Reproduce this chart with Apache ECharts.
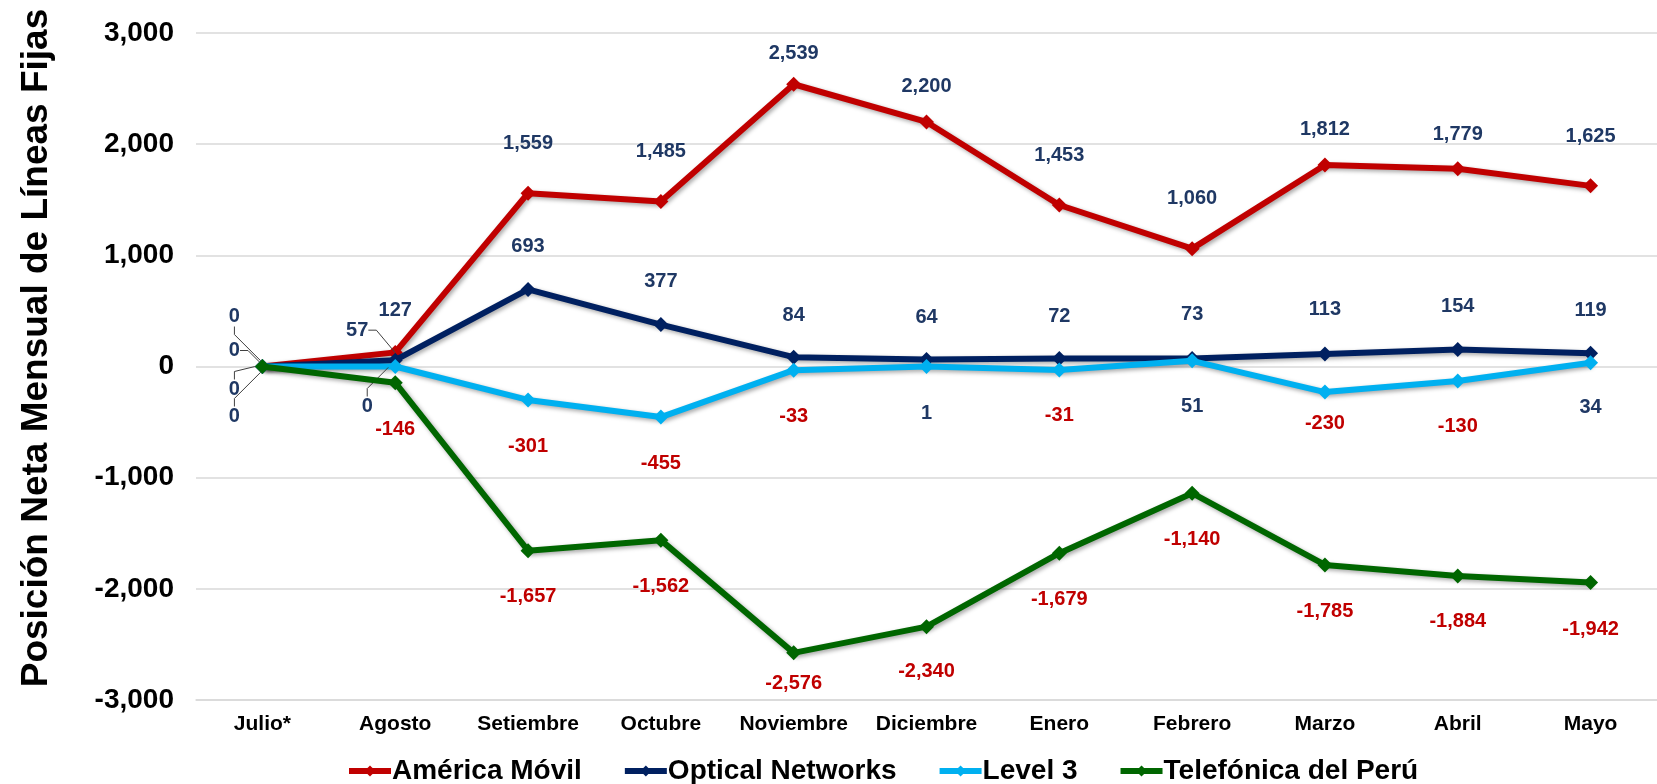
<!DOCTYPE html>
<html>
<head>
<meta charset="utf-8">
<script src="https://cdn.jsdelivr.net/npm/echarts@6/dist/echarts.min.js"></script>
<style>
html,body{margin:0;padding:0;background:#fff;}
#chart{width:1657px;height:784px;}
</style>
</head>
<body>
<div id="chart"></div>
<script>
// ---- data ----
const categories = ['Julio*','Agosto','Setiembre','Octubre','Noviembre','Diciembre','Enero','Febrero','Marzo','Abril','Mayo'];
const americaMovil = [0,127,1559,1485,2539,2200,1453,1060,1812,1779,1625];
const opticalNetworks = [0,57,693,377,84,64,72,73,113,154,119];
const level3 = [0,0,-301,-455,-33,1,-31,51,-230,-130,34];
const telefonica = [0,-146,-1657,-1562,-2576,-2340,-1679,-1140,-1785,-1884,-1942];
const seriesNames = ['América Móvil','Optical Networks','Level 3','Telefónica del Perú'];
const yTicks = [-3000,-2000,-1000,0,1000,2000,3000];
const yTitle = 'Posición Neta Mensual de Líneas Fijas';

// ---- label layout (pixel offsets of each value label from its point) ----
const labelOffsets = [
  [[-28,-50],[0,-42],[0,-50],[0,-50],[0,-31],[0,-35],[0,-49],[0,-50],[0,-36],[0,-34],[0,-49]],
  [[-28,-16],[-38,-30],[0,-43],[0,-43],[0,-42],[0,-42],[0,-42],[0,-44],[0,-44],[0,-43],[0,-43]],
  [[-28,23],[-28,40],[0,47],[0,46],[0,46],[0,47],[0,46],[0,46],[0,31],[0,46],[0,45]],
  [[-28,50],[0,47],[0,46],[0,46],[0,31],[0,45],[0,46],[0,46],[0,47],[0,46],[0,47]]
];
const leaderPoints = [[0],[0,1],[0,1],[0]];
const colors = ['#C00000','#002060','#00B0F0','#006600'];
const posLabelColor = '#1F3864';
const negLabelColor = '#C00000';
const FONT = 'Arial, "Liberation Sans", sans-serif';

const fmt = v => v.toLocaleString('en-US');
const allData = [americaMovil, opticalNetworks, level3, telefonica];

const series = allData.map((arr, si) => ({
  name: seriesNames[si],
  type: 'line',
  z: 2 + si,
  symbol: 'diamond',
  symbolSize: 15,
  lineStyle: {width: 6, color: colors[si], shadowColor: 'rgba(0,0,0,0.35)', shadowBlur: 4, shadowOffsetX: 2, shadowOffsetY: 2},
  itemStyle: {color: colors[si]},
  emphasis: {disabled: true},
  labelLine: {show: false, lineStyle: {color: '#404040', width: 1}, length2: 8},
  labelLayout: function (p) {
    const off = labelOffsets[si][p.dataIndex];
    return {dx: off[0], dy: off[1]};
  },
  data: arr.map((v, i) => {
    const leader = leaderPoints[si].indexOf(i) >= 0;
    return {
      value: v,
      label: {
        show: true,
        position: 'inside',
        formatter: fmt(v),
        color: v < 0 ? negLabelColor : posLabelColor,
        fontFamily: FONT,
        fontWeight: 'bold',
        fontSize: 20
      },
      labelLine: {show: leader, lineStyle: {color: '#404040', width: 1}, length2: 8}
    };
  })
}));

const chart = echarts.init(document.getElementById('chart'), null, {renderer: 'canvas'});
chart.setOption({
  animation: false,
  backgroundColor: '#ffffff',
  color: colors,
  grid: {left: 196, top: 33, width: 1470, height: 667, containLabel: false},
  xAxis: {
    type: 'category',
    data: categories,
    boundaryGap: true,
    axisLine: {show: true, onZero: false, lineStyle: {color: '#D9D9D9', width: 1.5}},
    axisTick: {show: false},
    axisLabel: {
      interval: 0,
      color: '#000', fontWeight: 'bold', fontSize: 21,
      fontFamily: FONT, margin: 14
    }
  },
  yAxis: {
    type: 'value',
    min: yTicks[0], max: yTicks[yTicks.length - 1], interval: 1000,
    axisLine: {show: false},
    axisTick: {show: false},
    splitLine: {lineStyle: {color: '#D9D9D9', width: 1.5}},
    axisLabel: {
      color: '#000', fontWeight: 'bold', fontSize: 28,
      fontFamily: FONT, margin: 22,
      formatter: v => fmt(v)
    }
  },
  legend: {
    data: seriesNames,
    left: 341, top: 752,
    itemWidth: 42, itemHeight: 14, itemGap: 40,
    lineStyle: {width: 6},
    textStyle: {color: '#000', fontWeight: 'bold', fontSize: 28, fontFamily: FONT, padding: [0,0,0,-4]}
  },
  graphic: [{
    type: 'text',
    x: 37, y: 348,
    rotation: Math.PI / 2,
    style: {
      text: yTitle,
      font: 'bold 37px ' + FONT,
      fill: '#000',
      textAlign: 'center',
      textVerticalAlign: 'middle'
    }
  }],
  series: series
});
</script>
</body>
</html>
